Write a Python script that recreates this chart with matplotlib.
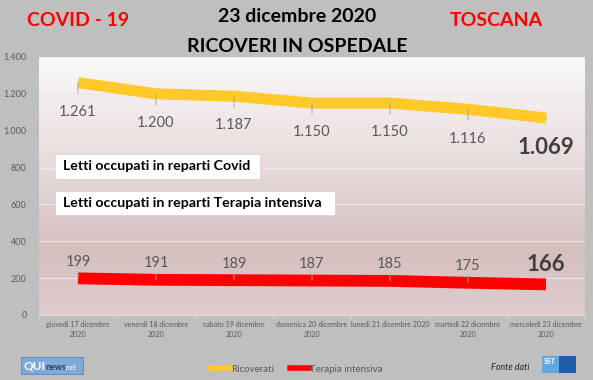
import matplotlib
matplotlib.use("Agg")
import matplotlib.pyplot as plt
import numpy as np
from matplotlib.colors import LinearSegmentedColormap
from matplotlib.lines import Line2D
from matplotlib.patches import Rectangle

# dati
giorni = [
    "giovedì 17 dicembre\n2020",
    "venerdì 18 dicembre\n2020",
    "sabato 19 dicembre\n2020",
    "domenica 20 dicembre\n2020",
    "lunedì 21 dicembre 2020",
    "martedì 22 dicembre\n2020",
    "mercoledì 23 dicembre\n2020",
]
ricoverati = [1261, 1200, 1187, 1150, 1150, 1116, 1069]
terapia_intensiva = [199, 191, 189, 187, 185, 175, 166]
y_ticks = [0, 200, 400, 600, 800, 1000, 1200, 1400]

plt.rcParams["font.family"] = ["Lato", "DejaVu Sans"]

W, H = 593, 380
GRIGIO = "#595959"


def fx(px):
    return px / W


def fy(py):
    return 1 - py / H


def punti(n):
    return f"{n:,}".replace(",", ".")


fig = plt.figure(figsize=(W / 100, H / 100), dpi=100, facecolor="#bfbfbf")
ax = fig.add_axes([fx(39), fy(315), (585 - 39) / W, (315 - 57) / H])

# sfondo sfumato dell'area del grafico
cmap = LinearSegmentedColormap.from_list(
    "sfondo",
    [(0.0, "#dfcdcd"), (0.25, "#d5bfbf"), (0.55, "#e6d9d9"), (1.0, "#faf9f9")],
)
ax.imshow(np.linspace(0, 1, 256).reshape(-1, 1), cmap=cmap, origin="lower",
          extent=[-0.5, 6.5, 0, 1400], aspect="auto", zorder=0)

x = np.arange(len(giorni))
ax.set_xlim(-0.5, 6.5)
ax.set_ylim(0, 1400)

ax.set_yticks(y_ticks)
ax.set_yticklabels([punti(v) for v in y_ticks])
ax.tick_params(axis="y", length=0, pad=9, labelsize=6.5, labelcolor=GRIGIO)
ax.set_xticks(x)
ax.set_xticklabels(giorni, fontsize=5.1, color=GRIGIO, linespacing=1.6)
ax.tick_params(axis="x", which="major", length=0, pad=4)
ax.set_xticks(np.arange(-0.5, 7, 1), minor=True)
ax.tick_params(axis="x", which="minor", length=3, color="#d9d9d9")
ax.yaxis.grid(True, color="#ece6e6", lw=0.8)
ax.set_axisbelow(True)
for lato in ["top", "right", "left"]:
    ax.spines[lato].set_visible(False)
ax.spines["bottom"].set_color("#d9d9d9")

ax.plot(x, ricoverati, color="#ffc929", lw=8, solid_capstyle="butt",
        solid_joinstyle="round", zorder=3)
ax.plot(x, terapia_intensiva, color="#ff0000", lw=8.5, solid_capstyle="butt",
        solid_joinstyle="round", zorder=3)

# etichette dati
for i, v in enumerate(ricoverati):
    ultimo = i == len(ricoverati) - 1
    ax.annotate(punti(v), (x[i], v), xytext=(0, -21),
                textcoords="offset points", ha="center", va="center",
                fontsize=16 if ultimo else 10.5, color="#404040" if ultimo else GRIGIO,
                fontweight="bold" if ultimo else "normal",
                arrowprops=dict(arrowstyle="-", color="#a6a6a6", lw=0.7,
                                shrinkA=6 if not ultimo else 10, shrinkB=0),
                zorder=4)
for i, v in enumerate(terapia_intensiva):
    ultimo = i == len(terapia_intensiva) - 1
    ax.annotate(punti(v), (x[i], v), xytext=(0, 12 if not ultimo else 14),
                textcoords="offset points", ha="center", va="center",
                fontsize=16 if ultimo else 10.5, color="#404040" if ultimo else GRIGIO,
                fontweight="bold" if ultimo else "normal",
                arrowprops=dict(arrowstyle="-", color="#a6a6a6", lw=0.7,
                                shrinkA=6, shrinkB=0) if not ultimo else None,
                zorder=4)

# riquadri di testo
for (x0, y0, x1, y1, testo) in [
    (55, 154, 260, 179, "Letti occupati in reparti Covid"),
    (55, 191, 335, 215, "Letti occupati in reparti Terapia intensiva"),
]:
    fig.patches.append(Rectangle((fx(x0), fy(y1)), (x1 - x0) / W, (y1 - y0) / H,
                                 transform=fig.transFigure, facecolor="white",
                                 edgecolor="#d0d0d0", lw=0.5, zorder=5))
    fig.text(fx(x0 + 8), fy((y0 + y1) / 2), testo, fontsize=10.2, fontweight="bold",
             color="black", ha="left", va="center", zorder=6)

# titoli
fig.text(fx(297), fy(17), "23 dicembre 2020", fontsize=14, fontweight="bold",
         ha="center", va="center")
fig.text(fx(297), fy(46), "RICOVERI IN OSPEDALE", fontsize=14, fontweight="bold",
         ha="center", va="center")
fig.text(fx(78), fy(21), "COVID - 19", fontsize=14, fontweight="bold",
         color="#ff0000", ha="center", va="center")
fig.text(fx(496), fy(20), "TOSCANA", fontsize=14, fontweight="bold",
         color="#ff0000", ha="center", va="center")

# legenda
maniglie = [Line2D([], [], color="#ffc929", lw=4),
            Line2D([], [], color="#ff0000", lw=4)]
fig.legend(maniglie, ["Ricoverati", "Terapia intensiva"], loc="center",
           bbox_to_anchor=(fx(297), fy(369)), ncol=2, frameon=False,
           fontsize=7, labelcolor=GRIGIO, handlelength=2.0, handletextpad=0.1,
           columnspacing=1.6)

# loghi e fonte
fig.patches.append(Rectangle((fx(21), fy(374)), 62 / W, 17 / H, transform=fig.transFigure,
                             facecolor="#7ea9d8", edgecolor="#5b86b8", lw=0.6))
fig.text(fx(23), fy(366), "QUI", fontsize=8.5, fontweight="bold", color="white",
         ha="left", va="center")
fig.text(fx(45), fy(367), "news", fontsize=6.5, fontweight="bold", color="#2c3e63",
         ha="left", va="center")
fig.text(fx(65), fy(367), ".net", fontsize=5.5, style="italic", color="white",
         ha="left", va="center")

fig.text(fx(510), fy(367), "Fonte dati", fontsize=6.5, style="italic", color="#262626",
         ha="center", va="center")
fig.patches.append(Rectangle((fx(542), fy(373)), 17 / W, 17 / H, transform=fig.transFigure,
                             facecolor="#5fa8e0", edgecolor="none"))
fig.patches.append(Rectangle((fx(559), fy(373)), 17 / W, 17 / H, transform=fig.transFigure,
                             facecolor="#1f5fa8", edgecolor="none"))
fig.text(fx(550), fy(361), "SST", fontsize=5, fontweight="bold", color="white",
         ha="center", va="center")

fig.savefig("out.png", dpi=100, facecolor=fig.get_facecolor())
